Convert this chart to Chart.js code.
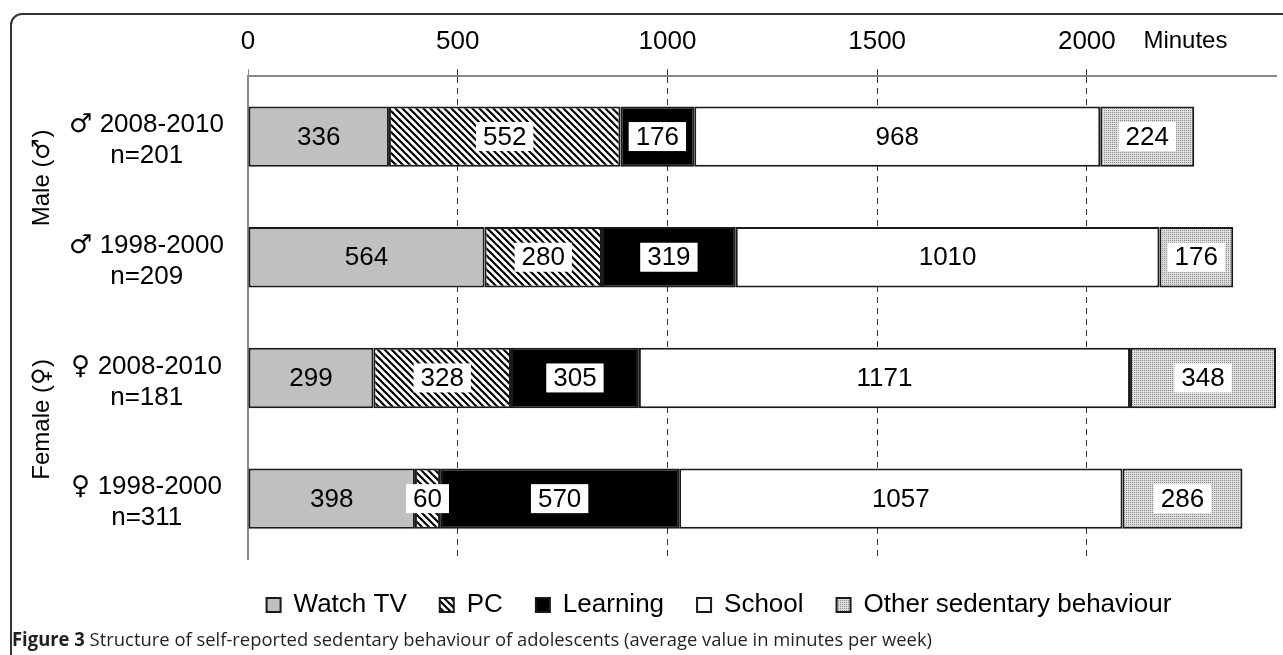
<!DOCTYPE html>
<html lang="en">
<head>
<meta charset="UTF-8">
<title>Structure of self-reported sedentary behaviour</title>
<style>
  @font-face {
    font-family: "GenderSym";
    src: local("DejaVu Sans"), local("DejaVuSans");
    unicode-range: U+2640-2642;
  }
  html, body { margin: 0; padding: 0; background: #fff; overflow: hidden; }
  #wrap { position: relative; width: 1283px; height: 655px; }
  #chart { position: absolute; left: 0; top: 0; }
  #frame {
    position: absolute; left: 10px; top: 13px; width: 1330px; height: 720px;
    border: 2px solid #333; border-radius: 12px; pointer-events: none;
  }
  #caption {
    position: absolute; left: 12px; top: 628px;
    font-family: "Open Sans", sans-serif; font-size: 19px; line-height: 22px;
    color: #231f20; white-space: nowrap; transform-origin: 0 0;
  }
</style>
</head>
<body>
<div id="wrap">
  <canvas id="chart" width="1283" height="655"></canvas>
  <div id="frame"></div>
  <div id="caption"><b>Figure 3</b> Structure of self-reported sedentary behaviour of adolescents (average value in minutes per week)</div>
</div>

<script src="https://cdn.jsdelivr.net/npm/chart.js@4/dist/chart.umd.min.js"></script>
<script>
  const groups = [
    ["\u2642 2008-2010", "n=201"],
    ["\u2642 1998-2000", "n=209"],
    ["\u2640 2008-2010", "n=181"],
    ["\u2640 1998-2000", "n=311"]
  ];
  const watchTv = [336, 564, 299, 398];
  const pc = [552, 280, 328, 60];
  const learning = [176, 319, 305, 570];
  const school = [968, 1010, 1171, 1057];
  const other = [224, 176, 348, 286];
  const xTicks = [0, 500, 1000, 1500, 2000];
  const sexLabels = ["Male (\u2642)", "Female (\u2640)"];

  const FONT = '"GenderSym", "Liberation Sans", Arial, sans-serif';

  function hatchPattern() {
    const c = document.createElement("canvas");
    c.width = 7; c.height = 7;
    const g = c.getContext("2d");
    g.fillStyle = "#fff";
    g.fillRect(0, 0, 7, 7);
    g.strokeStyle = "#000";
    g.lineWidth = 2.2;
    for (let k = -1; k <= 1; k++) {
      g.beginPath();
      g.moveTo(k * 7 - 1, -1);
      g.lineTo(k * 7 + 8, 8);
      g.stroke();
    }
    return g.createPattern(c, "repeat");
  }

  function dotPattern() {
    const c = document.createElement("canvas");
    c.width = 2; c.height = 2;
    const g = c.getContext("2d");
    g.fillStyle = "#dedede";
    g.fillRect(0, 0, 2, 2);
    g.fillStyle = "#8a8a8a";
    g.fillRect(0, 0, 1, 1);
    return g.createPattern(c, "repeat");
  }

  // numbers on the segments; some sit on a white box
  const valueLabels = {
    id: "valueLabels",
    afterLayout(chart) {
      // legend in the figure is centred a bit left of the plot
      if (chart.legend) { chart.legend.left = 155; chart.legend.right = 1283; }
    },
    afterDatasetsDraw(chart) {
      const ctx = chart.ctx;
      ctx.save();
      ctx.font = "26px " + FONT;
      ctx.textAlign = "center";
      ctx.textBaseline = "middle";
      chart.data.datasets.forEach((ds, i) => {
        chart.getDatasetMeta(i).data.forEach((bar, j) => {
          const cx = (bar.x + bar.base) / 2;
          const text = String(ds.data[j]);
          if (ds.boxedLabel) {
            const w = ctx.measureText(text).width + 14;
            ctx.fillStyle = "#fff";
            ctx.fillRect(cx - w / 2, bar.y - 14.5, w, 29);
          }
          ctx.fillStyle = "#000";
          ctx.fillText(text, cx, bar.y + 1);
        });
      });
      ctx.restore();
    },
    afterDraw(chart) {
      const ctx = chart.ctx;
      const x = chart.scales.x, y = chart.scales.y;
      ctx.save();
      ctx.fillStyle = "#000";
      ctx.font = "24px " + FONT;
      ctx.textAlign = "center";
      ctx.textBaseline = "middle";
      ctx.fillText("Minutes", x.getPixelForValue(2235), 41);

      sexLabels.forEach((txt, k) => {
        const cy = (y.getPixelForValue(2 * k) + y.getPixelForValue(2 * k + 1)) / 2 - 19;
        ctx.save();
        ctx.translate(42, cy);
        ctx.rotate(-Math.PI / 2);
        ctx.fillText(txt, 0, 0);
        ctx.restore();
      });
      ctx.restore();
    }
  };

  const barStyle = { borderColor: "#1a1a1a", borderWidth: 2, borderSkipped: false };

  function build() {
    new Chart(document.getElementById("chart"), {
      type: "bar",
      data: {
        labels: groups,
        datasets: [
          { label: "Watch TV", data: watchTv, backgroundColor: "#c0c0c0", boxedLabel: false, ...barStyle },
          { label: "PC", data: pc, backgroundColor: hatchPattern(), boxedLabel: true, ...barStyle },
          { label: "Learning", data: learning, backgroundColor: "#000", boxedLabel: true, ...barStyle },
          { label: "School", data: school, backgroundColor: "#fff", boxedLabel: false, ...barStyle },
          { label: "Other sedentary behaviour", data: other, backgroundColor: dotPattern(), boxedLabel: true, ...barStyle }
        ]
      },
      options: {
        indexAxis: "y",
        responsive: false,
        animation: false,
        barPercentage: 0.5,
        categoryPercentage: 1,
        layout: { padding: { left: 0, right: 7, top: 14, bottom: 27 } },
        scales: {
          x: {
            position: "top",
            stacked: true,
            min: 0,
            max: 2451,
            afterBuildTicks: axis => { axis.ticks = xTicks.map(v => ({ value: v })); },
            ticks: {
              color: "#000", font: { family: FONT, size: 26 }, padding: 12, maxRotation: 0,
              callback: v => String(v)
            },
            grid: {
              color: c => (c.tick && c.tick.value === 0 ? "rgba(0,0,0,0)" : "#333"),
              tickColor: c => (c.tick && c.tick.value === 0 ? "#888" : "#333"),
              lineWidth: 1,
              tickLength: 7
            },
            border: { display: true, color: "#888", width: 2, dash: [6, 5] }
          },
          y: {
            stacked: true,
            afterFit: scale => { scale.width = 248; },
            ticks: {
              color: "#000", font: { family: FONT, size: 26, lineHeight: 1.2 },
              padding: 24, crossAlign: "center", labelOffset: 4
            },
            grid: { display: false, drawTicks: false },
            border: { display: true, color: "#888", width: 2 }
          }
        },
        plugins: {
          legend: {
            position: "bottom",
            labels: { color: "#000", font: { family: FONT, size: 26 }, boxWidth: 14, boxHeight: 14, padding: 33 }
          },
          tooltip: { enabled: false }
        }
      },
      plugins: [valueLabels]
    });
  }

  document.fonts.load('26px "GenderSym"', "\u2640\u2642").then(build, build);

  const cap = document.getElementById("caption");
  const capWidth = cap.getBoundingClientRect().width;
  cap.style.transform = "scaleX(" + (920 / capWidth) + ")";
</script>
</body>
</html>
